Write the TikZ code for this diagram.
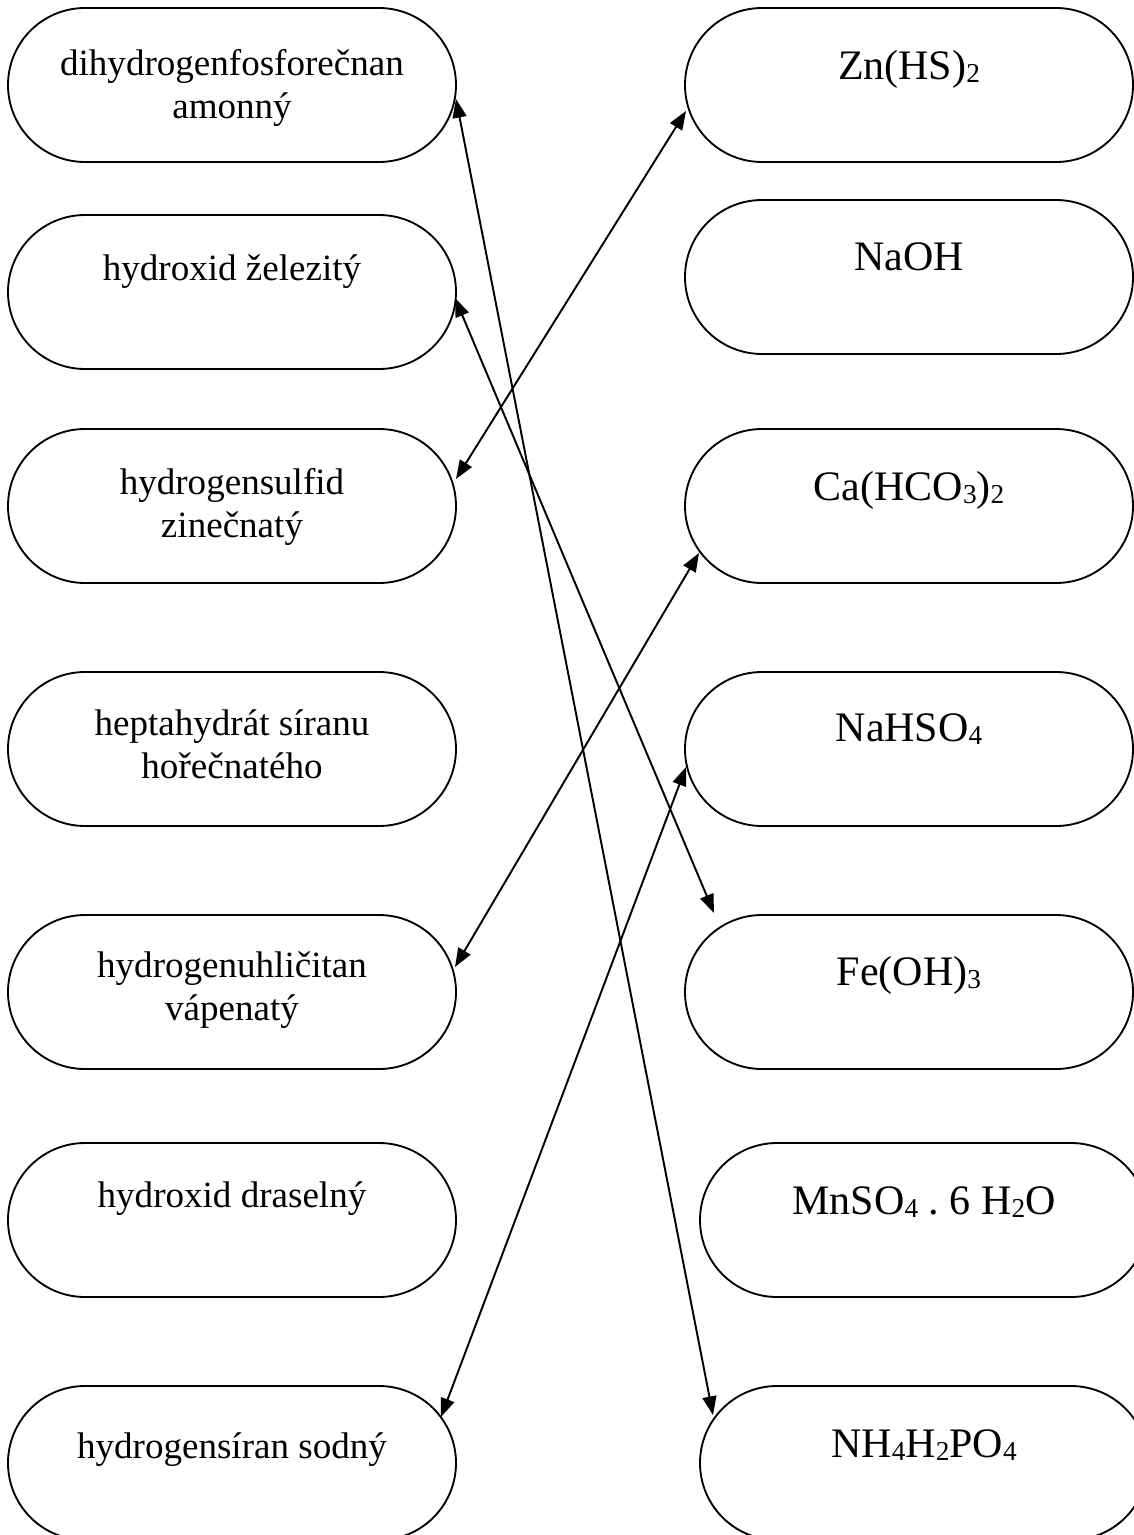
\documentclass[tikz,border=0pt]{standalone}
\usepackage{fontspec}
\setmainfont{Liberation Serif}
\usetikzlibrary{arrows.meta,calc}
\newcommand{\sbs}[1]{\raisebox{-2.4pt}{\fontsize{20.5pt}{20.5pt}\selectfont #1}}
\frenchspacing
\begin{document}
\begin{tikzpicture}[x=0.75pt,y=-0.75pt,
  box/.style={draw=black, line width=1.4pt, rounded corners=57.75pt,
    minimum width=336pt, minimum height=115.5pt, inner sep=0pt},
  ltext/.style={anchor=base, align=center, inner sep=0pt,
    font=\fontsize{27.8pt}{32.25pt}\selectfont},
  rtext/.style={anchor=base, inner sep=0pt,
    font=\fontsize{31.5pt}{36pt}\selectfont},
  conn/.style={line width=1.45pt,
    {Triangle[length=14pt,width=10.5pt]}-{Triangle[length=14pt,width=10.5pt]}}]
\useasboundingbox (0,0) rectangle (1134,1535);
\clip (0,0) rectangle (1134,1535);
% left boxes
\node[box] (L1) at (232,85) {};
\node[box] (L2) at (232,292) {};
\node[box] (L3) at (232,506) {};
\node[box] (L4) at (232,749) {};
\node[box] (L5) at (232,992) {};
\node[box] (L6) at (232,1220) {};
\node[box] (L7) at (232,1463) {};
% right boxes
\node[box] (R1) at (909,85) {};
\node[box] (R2) at (909,277) {};
\node[box] (R3) at (909,506) {};
\node[box] (R4) at (909,749) {};
\node[box] (R5) at (909,992) {};
\node[box] (R6) at (924,1220) {};
\node[box] (R7) at (924,1463) {};
% left texts (base = baseline of the last line)
\node[ltext] (L1t) at (232,118) {dihydrogenfosforečnan\\amonný};
\node[ltext] (L2t) at (232,280) {hydroxid železitý};
\node[ltext] (L3t) at (232,537) {hydrogensulfid\\zinečnatý};
\node[ltext] (L4t) at (232,778) {heptahydrát síranu\\hořečnatého};
\node[ltext] (L5t) at (232,1020) {hydrogenuhličitan\\vápenatý};
\node[ltext] (L6t) at (232,1207) {hydroxid draselný};
\node[ltext] (L7t) at (232,1458) {hydrogensíran sodný};
% right texts
\node[rtext] (R1t) at (909,79) {Zn(HS)\sbs{2}};
\node[rtext] (R2t) at (909,270) {NaOH};
\node[rtext] (R3t) at (909,500) {Ca(HCO\sbs{3})\sbs{2}};
\node[rtext] (R4t) at (909,741) {NaHSO\sbs{4}};
\node[rtext] (R5t) at (909,985) {Fe(OH)\sbs{3}};
\node[rtext] (R6t) at (924,1214) {MnSO\sbs{4} . 6 H\sbs{2}O};
\node[rtext] (R7t) at (924,1457) {NH\sbs{4}H\sbs{2}PO\sbs{4}};
% connectors
\draw[conn] ($(L1.center)+(224,14)$) -- ($(R7.center)+(-211,-48)$);
\draw[conn] ($(L2.center)+(223,6)$) -- ($(R5.center)+(-195,-79)$);
\draw[conn] ($(L3.center)+(224,-27)$) -- ($(R1.center)+(-223,26)$);
\draw[conn] ($(L5.center)+(223,-25)$) -- ($(R3.center)+(-210,47)$);
\draw[conn] ($(L7.center)+(209,-46)$) -- ($(R4.center)+(-223,18)$);
\end{tikzpicture}
\end{document}
